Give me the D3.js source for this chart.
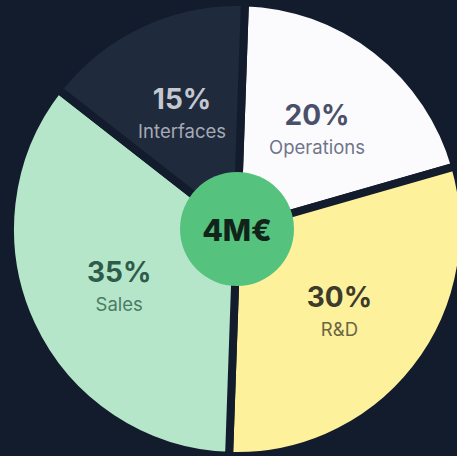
<!DOCTYPE html>
<html>
<head>
    <meta charset="utf-8">
    <script src="https://d3js.org/d3.v7.min.js"></script>
    <style type="text/css">
        body {
            margin: 0;
            background: #131c2d;
        }

        .pct {
            font-family: Inter, sans-serif;
            font-weight: 700;
            font-size: 28px;
            text-anchor: middle;
        }

        .name {
            font-family: Inter, sans-serif;
            font-weight: 400;
            font-size: 18.5px;
            text-anchor: middle;
        }

        .total {
            font-family: Inter, sans-serif;
            font-weight: 800;
            font-size: 30px;
            text-anchor: middle;
        }
    </style>
</head>
<body>
    <div id="budget_pie"></div>

    <script>
        // budget split, clockwise from 12 o'clock
        const categories = ["Operations", "R&D", "Sales", "Interfaces"];
        const shares = [20, 30, 35, 15];
        const totalLabel = "4M€";

        const sliceColors = ["#fbfbfd", "#fdf29b", "#b6e6c9", "#1f2a3c"];
        const pctColors = ["#4b506a", "#3d3b2c", "#2e5b4a", "#c4c8d0"];
        const nameColors = ["#70748a", "#6b6546", "#4b7b66", "#a5aab5"];

        const width = 457, height = 456;
        const cx = 237, cy = 229;
        const radius = 227;
        const rot = 2 * Math.PI / 180; // small clockwise offset of first slice

        const data = categories.map((c, i) => ({ name: c, value: shares[i], i: i }));

        const svg = d3.select("#budget_pie")
            .append("svg")
            .attr("width", width)
            .attr("height", height)
            .style("display", "block");

        svg.append("rect")
            .attr("width", width)
            .attr("height", height)
            .attr("fill", "#131c2d");

        const g = svg.append("g")
            .attr("transform", `translate(${cx},${cy})`);

        const pie = d3.pie()
            .value(d => d.value)
            .sort(null)
            .startAngle(rot)
            .endAngle(2 * Math.PI + rot);

        const arcs = pie(data);

        const arc = d3.arc()
            .innerRadius(0)
            .outerRadius(radius);

        const labelArc = d3.arc()
            .innerRadius(130)
            .outerRadius(130);

        // slices, dark stroke makes the gaps
        g.selectAll(".slice")
            .data(arcs)
            .join("path")
            .attr("class", "slice")
            .attr("d", arc)
            .attr("fill", d => sliceColors[d.data.i])
            .attr("stroke", "#131c2d")
            .attr("stroke-width", 8)
            .attr("stroke-linejoin", "miter");

        // labels
        const labels = g.selectAll(".lbl")
            .data(arcs)
            .join("g")
            .attr("class", "lbl")
            .attr("transform", d => `translate(${labelArc.centroid(d)})`);

        labels.append("text")
            .attr("class", "pct")
            .attr("y", -2)
            .attr("fill", d => pctColors[d.data.i])
            .text(d => d.data.value + "%");

        labels.append("text")
            .attr("class", "name")
            .attr("y", 27)
            .attr("fill", d => nameColors[d.data.i])
            .text(d => d.data.name);

        // centre total
        g.append("circle")
            .attr("r", 57)
            .attr("fill", "#55c27e");

        g.append("text")
            .attr("class", "total")
            .attr("y", 12)
            .attr("fill", "#10241a")
            .text(totalLabel);
    </script>
</body>
</html>
